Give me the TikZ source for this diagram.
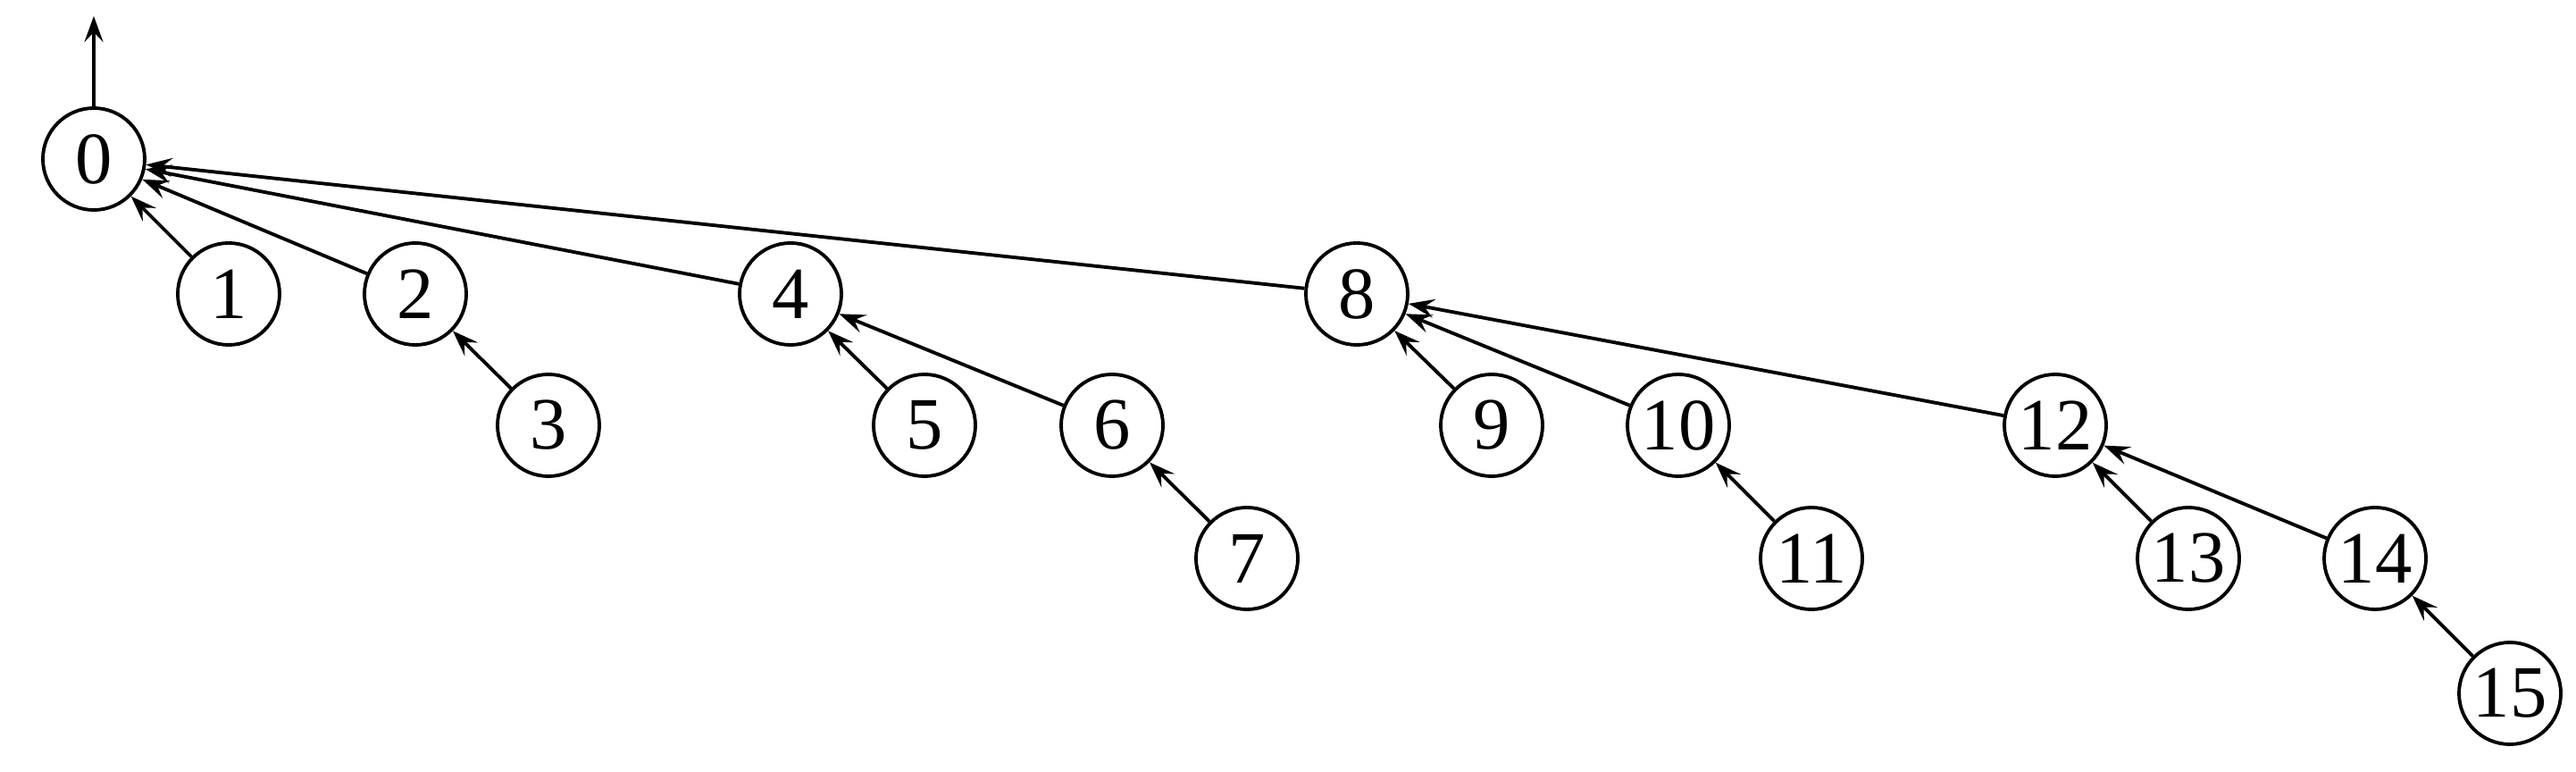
\documentclass[tikz,border=0pt]{standalone}
\usepackage{fontspec}
\setmainfont{Liberation Serif}
\usetikzlibrary{arrows.meta}

\tikzset{
  nodo/.style={circle, draw, line width=1.1pt, minimum size=1.14cm, inner sep=0pt,
    font=\fontsize{23.5}{28}\selectfont},
  enlace/.style={-{Stealth[length=2.9mm, width=2.1mm, inset=1.1mm]}, line width=1.1pt}
}

\begin{document}
\begin{tikzpicture}
        \useasboundingbox (0,0) rectangle (28.84,8.63);
        % Raiz
        \node[nodo] (n0) at (1.05, 6.85) {0};
        \coordinate (arriba) at (1.05, 8.45);
        % Primer nivel
        \node[nodo] (n1) at (2.56, 5.34) {1};
        \node[nodo] (n2) at (4.65, 5.34) {2};
        \node[nodo] (n4) at (8.85, 5.34) {4};
        \node[nodo] (n8) at (15.19, 5.34) {8};
        % Segundo nivel
        \node[nodo] (n3) at (6.14, 3.87) {3};
        \node[nodo] (n5) at (10.35, 3.87) {5};
        \node[nodo] (n6) at (12.45, 3.87) {6};
        \node[nodo] (n9) at (16.70, 3.87) {9};
        \node[nodo] (n10) at (18.79, 3.87) {10};
        \node[nodo] (n12) at (23.01, 3.87) {12};
        % Tercer nivel
        \node[nodo] (n7) at (13.96, 2.38) {7};
        \node[nodo] (n11) at (20.28, 2.38) {11};
        \node[nodo] (n13) at (24.50, 2.38) {13};
        \node[nodo] (n14) at (26.59, 2.38) {14};
        % Cuarto nivel
        \node[nodo] (n15) at (28.10, 0.87) {15};

        % Flechas hacia el padre
        \draw[enlace] (n0) -- (arriba);
        \draw[enlace] (n1) -- (n0);
        \draw[enlace] (n2) -- (n0);
        \draw[enlace] (n4) -- (n0);
        \draw[enlace] (n8) -- (n0);
        \draw[enlace] (n3) -- (n2);
        \draw[enlace] (n5) -- (n4);
        \draw[enlace] (n6) -- (n4);
        \draw[enlace] (n7) -- (n6);
        \draw[enlace] (n9) -- (n8);
        \draw[enlace] (n10) -- (n8);
        \draw[enlace] (n12) -- (n8);
        \draw[enlace] (n11) -- (n10);
        \draw[enlace] (n13) -- (n12);
        \draw[enlace] (n14) -- (n12);
        \draw[enlace] (n15) -- (n14);
\end{tikzpicture}
\end{document}
